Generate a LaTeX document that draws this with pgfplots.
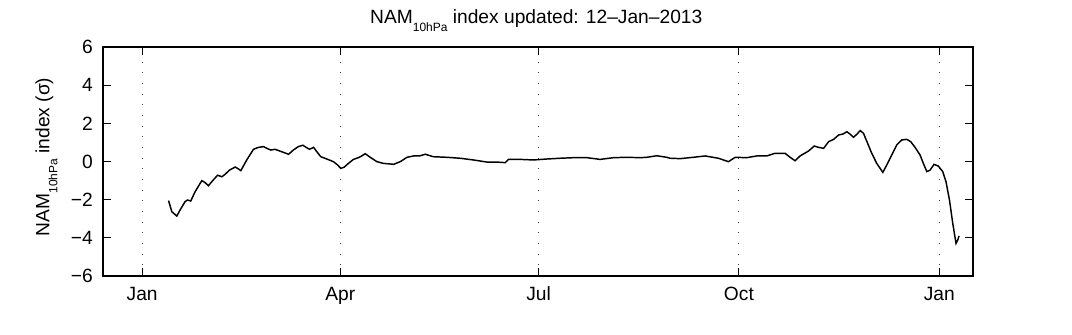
\documentclass[border=0pt]{standalone}
\usepackage{fontspec}
\setmainfont{Liberation Sans}
\usepackage{pgfplots}
\pgfplotsset{compat=1.18}
\newcommand{\nam}{NAM\raisebox{-6pt}{\fontsize{9}{10}\selectfont 10hPa}}
\begin{document}
\begin{tikzpicture}
\path[use as bounding box] (0,0) rectangle (804pt,251.25pt);
\begin{axis}[
  at={(77.25pt,44.25pt)}, anchor=south west,
  scale only axis, width=652.5pt, height=171.75pt,
  xmin=-18, xmax=381.5, ymin=-6, ymax=6,
  xtick={0,91,182,274,366}, xticklabels={Jan,Apr,Jul,Oct,Jan},
  ytick={-6,-4,-2,0,2,4,6}, yticklabels={−6,−4,−2,0,2,4,6},
  tick align=inside, major tick length=6pt,
  xmajorgrids, grid style={black!75, line width=0.75pt, dash pattern=on 0.8pt off 7.2pt},
  axis line style={line width=1.1pt},
  every tick/.style={black, line width=0.8pt},
  tick label style={font=\fontsize{14.4}{16}\selectfont},
  xticklabel style={anchor=base, inner sep=0pt, yshift=-18.75pt},
  yticklabel style={anchor=east, inner sep=0pt, xshift=-7.5pt},
  label style={font=\fontsize{14.4}{16}\selectfont},
  title style={font=\fontsize{14.4}{16}\selectfont, at={(axis description cs:0.498,1)}, anchor=base, yshift=11.5pt},
  title={\nam{} index updated: 12–Jan–2013},
  ylabel={\nam{} index (σ)},
  ylabel style={at={(axis description cs:-0.0617,0.52)}, anchor=base, rotate=0},
  clip=true,
]
\addplot[black, line width=1.1pt] coordinates {
(12.1,-2.05) (13.6,-2.63) (15.9,-2.86) (17.4,-2.54) (19.7,-2.10) (20.8,-2.02)
(22.3,-2.07) (24.3,-1.58) (27.4,-1.00) (28.9,-1.11) (30.4,-1.27) (32.4,-1.00)
(34.6,-0.72) (36.6,-0.80) (38.1,-0.67) (40.1,-0.45) (42.7,-0.29) (44.2,-0.39)
(45.3,-0.48) (48.0,0.08) (51.1,0.64) (53.4,0.74) (55.7,0.78) (57.2,0.69)
(59.1,0.60) (61.0,0.64) (64.1,0.51) (67.2,0.38) (69.4,0.60) (71.7,0.78)
(73.8,0.85) (75.3,0.74) (76.8,0.64) (78.7,0.74) (80.2,0.51) (82.0,0.25)
(84.8,0.13) (87.8,-0.01) (89.7,-0.18) (91.2,-0.36) (92.7,-0.30) (94.7,-0.10)
(97.0,0.11) (99.3,0.20) (100.8,0.29) (102.4,0.41) (104.7,0.22) (107.8,-0.01)
(110.8,-0.10) (113.9,-0.13) (115.4,-0.15) (118.5,-0.01) (121.6,0.22) (124.6,0.29)
(127.6,0.30) (130.0,0.38) (133.7,0.25) (139.9,0.22) (146.0,0.17) (152.1,0.08)
(158.3,-0.03) (162.8,-0.03) (166.7,-0.06) (168.2,0.11) (173.6,0.11) (179.7,0.08)
(185.8,0.13) (192.0,0.17) (198.1,0.20) (204.2,0.20) (210.3,0.11) (216.4,0.20)
(222.5,0.22) (228.7,0.20) (231.7,0.22) (236.3,0.30) (240.9,0.22) (242.4,0.17)
(247.0,0.15) (253.1,0.22) (258.5,0.29) (264.6,0.17) (269.2,-0.01) (272.3,0.22)
(277.6,0.20) (282.2,0.29) (286.8,0.29) (290.6,0.43) (295.2,0.43) (297.5,0.22)
(299.8,0.04) (302.1,0.29) (306.0,0.55) (308.6,0.81) (310.6,0.74) (312.9,0.69)
(315.2,1.04) (317.5,1.16) (319.8,1.39) (321.8,1.44) (323.6,1.56) (325.1,1.43)
(326.6,1.27) (328.2,1.43) (329.7,1.62) (331.2,1.48) (332.8,1.04) (335.0,0.43)
(337.3,-0.10) (340.1,-0.57) (341.9,-0.18) (344.2,0.34) (346.5,0.87) (348.8,1.13)
(351.1,1.16) (352.9,1.04) (354.9,0.74) (357.2,0.34) (358.7,-0.10) (360.3,-0.53)
(361.8,-0.45) (363.6,-0.15) (365.6,-0.24) (367.6,-0.53) (369.1,-1.06) (370.7,-2.02)
(372.2,-3.24) (373.7,-4.29) (374.5,-4.11) (375.1,-3.90)
};
\end{axis}
\end{tikzpicture}
\end{document}
